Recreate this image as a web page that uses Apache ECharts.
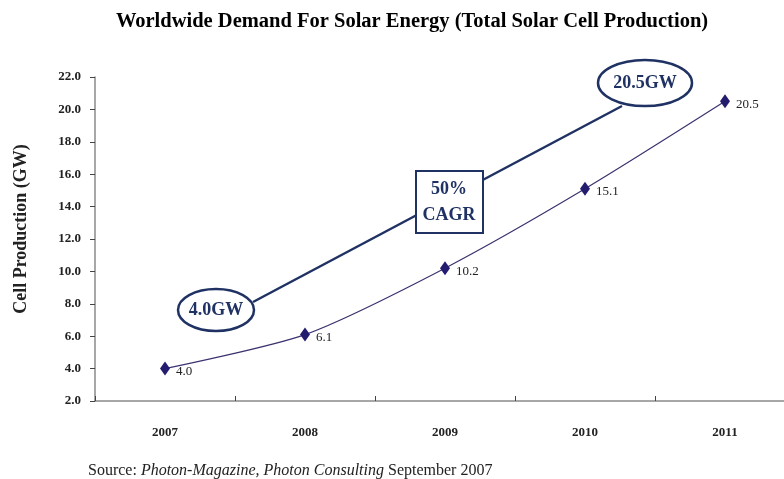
<!DOCTYPE html>
<html>
<head>
<meta charset="utf-8">
<script src="https://cdn.jsdelivr.net/npm/echarts@6/dist/echarts.min.js"></script>
<style>
html, body { margin: 0; padding: 0; background: #fff; overflow: hidden; }
#chart { width: 800px; height: 479px; }
</style>
</head>
<body>
<div id="chart"></div>
<script>
const years = ['2007', '2008', '2009', '2010', '2011']
const production = [4.0, 6.1, 10.2, 15.1, 20.5]
const yTicks = { min: 2, max: 22, interval: 2 }

const serif = '"Liberation Serif", "DejaVu Serif", serif'
const navy = '#1f3263'
const markColor = '#241c6e'

const chart = echarts.init(document.getElementById('chart'))

const option = {
	backgroundColor: '#ffffff',
	animation: false,
	title: [
		{
			text: 'Worldwide Demand For Solar Energy (Total Solar Cell Production)',
			left: 407,
			top: 6,
			textAlign: 'center',
			textStyle: { fontFamily: serif, fontSize: 20.5, fontWeight: 'bold', color: '#000' }
		},
		{
			// source line under the chart
			text: '{a|Source: }{b|Photon-Magazine, Photon Consulting}{a| September 2007}',
			left: 83,
			top: 458,
			textStyle: {
				fontWeight: 'normal',
				rich: {
					a: { fontFamily: serif, fontSize: 16, fontWeight: 'normal', color: '#222' },
					b: { fontFamily: serif, fontSize: 16, fontWeight: 'normal', color: '#222', fontStyle: 'italic' }
				}
			}
		}
	],
	grid: {
		left: 95,
		top: 77,
		width: 700,
		height: 324
	},
	xAxis: {
		type: 'category',
		data: years,
		boundaryGap: true,
		axisLine: { lineStyle: { color: '#8a8a8a', width: 1.5 } },
		axisTick: { show: true, length: 5, inside: true, lineStyle: { color: '#444' } },
		axisLabel: {
			margin: 25,
			fontFamily: serif,
			fontSize: 13,
			fontWeight: 'bold',
			color: '#222'
		},
		splitLine: { show: false }
	},
	yAxis: {
		type: 'value',
		min: yTicks.min,
		max: yTicks.max,
		interval: yTicks.interval,
		name: 'Cell Production (GW)',
		nameLocation: 'middle',
		nameGap: 65,
		nameRotate: 90,
		nameTextStyle: {
			fontFamily: serif, fontSize: 18, fontWeight: 'bold', color: '#222',
			padding: [0, 0, 0, 20]
		},
		axisLine: { show: true, lineStyle: { color: '#8a8a8a', width: 1.5 } },
		axisTick: { show: true, length: 5, lineStyle: { color: '#444' } },
		axisLabel: {
			margin: 14,
			fontFamily: serif,
			fontSize: 13,
			fontWeight: 'bold',
			color: '#222',
			formatter: v => v.toFixed(1)
		},
		splitLine: { show: false }
	},
	series: [
		{
			type: 'line',
			data: production,
			smooth: 0.25,
			symbol: 'diamond',
			symbolSize: [10, 14],
			lineStyle: { color: '#3a336f', width: 1.2 },
			itemStyle: { color: markColor },
			label: {
				show: true,
				position: 'right',
				distance: 6,
				offset: [0, 3],
				fontFamily: serif,
				fontSize: 13,
				color: '#222',
				formatter: p => p.value.toFixed(1)
			}
		}
	],
	graphic: [
		// trend line between the two callouts
		{
			type: 'line',
			shape: { x1: 253, y1: 302, x2: 622, y2: 106 },
			style: { stroke: navy, lineWidth: 2.5 },
			z: 10
		},
		{
			type: 'ellipse',
			shape: { cx: 216, cy: 310, rx: 38, ry: 21 },
			style: { fill: '#fff', stroke: navy, lineWidth: 2.5 },
			z: 11
		},
		{
			type: 'text',
			x: 216,
			y: 310,
			style: {
				text: '4.0GW', fontFamily: serif, fontSize: 18, fontWeight: 'bold',
				fill: navy, align: 'center', verticalAlign: 'middle'
			},
			z: 12
		},
		{
			type: 'ellipse',
			shape: { cx: 645, cy: 83, rx: 47, ry: 23 },
			style: { fill: '#fff', stroke: navy, lineWidth: 2.5 },
			z: 11
		},
		{
			type: 'text',
			x: 645,
			y: 83,
			style: {
				text: '20.5GW', fontFamily: serif, fontSize: 18, fontWeight: 'bold',
				fill: navy, align: 'center', verticalAlign: 'middle'
			},
			z: 12
		},
		{
			type: 'rect',
			shape: { x: 416, y: 171, width: 67, height: 62 },
			style: { fill: '#fff', stroke: navy, lineWidth: 2 },
			z: 11
		},
		{
			type: 'text',
			x: 449,
			y: 202,
			style: {
				text: '50%\nCAGR', fontFamily: serif, fontSize: 18, fontWeight: 'bold',
				lineHeight: 26, fill: navy, align: 'center', verticalAlign: 'middle'
			},
			z: 12
		}
	]
}

chart.setOption(option)
</script>
</body>
</html>
